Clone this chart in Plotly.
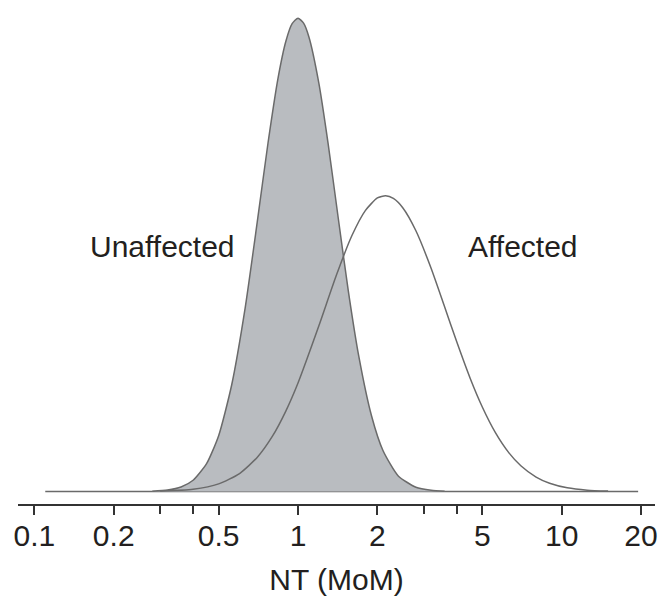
import numpy as np
import plotly.graph_objects as go

# Unaffected distribution (NT in MoM vs relative density)
unaff_x = [0.28, 0.32, 0.36, 0.40, 0.45, 0.50, 0.56, 0.63, 0.70, 0.77, 0.84, 0.90, 0.95, 1.0,
           1.05, 1.1, 1.2, 1.3, 1.42, 1.55, 1.7, 1.9, 2.1, 2.4, 2.8, 3.2, 3.6]
unaff_y = [0.002, 0.0085, 0.026, 0.065, 0.161, 0.323, 0.615, 1.06, 1.556, 2.02, 2.393, 2.608, 2.708, 2.74,
           2.711, 2.631, 2.363, 2.017, 1.586, 1.166, 0.783, 0.438, 0.237, 0.090, 0.0245, 0.0067, 0.0019]

# Affected distribution
aff_x = [0.3, 0.4, 0.5, 0.6, 0.7, 0.8, 0.9, 1.0, 1.2, 1.4, 1.6, 1.8, 2.0, 2.15, 2.3, 2.5, 2.8, 3.2,
         3.6, 4.0, 4.5, 5.0, 5.6, 6.3, 7.0, 8.0, 9.0, 10.5, 12.5, 15]
aff_y = [0.0021, 0.013, 0.0438, 0.104, 0.197, 0.320, 0.467, 0.628, 0.959, 1.254, 1.480, 1.626, 1.699, 1.712,
         1.696, 1.641, 1.509, 1.291, 1.068, 0.866, 0.654, 0.489, 0.342, 0.225, 0.149, 0.0833, 0.0474,
         0.021, 0.0076, 0.0023]

baseline_x = [0.11, 19.5]
baseline_y = [0, 0]

tick_vals = [0.1, 0.2, 0.5, 1, 2, 5, 10, 20]
tick_text = ["0.1", "0.2", "0.5", "1", "2", "5", "10", "20"]
minor_vals = [0.3, 0.4, 3, 4]

labels = ["Unaffected", "Affected"]
label_x = [0.306, 7.13]
label_y = [1.42, 1.42]

FONT = "Liberation Sans, Arial, Helvetica, sans-serif"
TEXT = "#231f20"
LINE = "#6a6a6a"
FILL = "#b9bcc0"

fig = go.Figure()
fig.add_trace(go.Scatter(x=baseline_x, y=baseline_y, mode="lines",
                         line=dict(color=LINE, width=1.5), hoverinfo="skip"))
fig.add_trace(go.Scatter(x=unaff_x, y=unaff_y, mode="lines", fill="tozeroy", fillcolor=FILL,
                         line=dict(color=LINE, width=1.5, shape="spline", smoothing=0.6)))
fig.add_trace(go.Scatter(x=aff_x, y=aff_y, mode="lines",
                         line=dict(color=LINE, width=1.5, shape="spline", smoothing=0.6)))

for t, xv, yv in zip(labels, label_x, label_y):
    fig.add_annotation(x=np.log10(xv), y=yv, text=t, showarrow=False,
                       font=dict(family=FONT, size=30, color=TEXT),
                       xanchor="center", yanchor="middle")

fig.update_layout(
    width=663, height=601,
    margin=dict(l=18, r=8, t=0, b=97),
    paper_bgcolor="white", plot_bgcolor="white",
    showlegend=False,
    font=dict(family=FONT, size=30, color=TEXT),
)
fig.update_xaxes(
    type="log", range=[-1.062, 1.354],
    tickmode="array", tickvals=tick_vals, ticktext=tick_text,
    ticks="outside", ticklen=9, tickwidth=1.5, tickcolor="#333333",
    ticklabelstandoff=-5,
    showline=True, linecolor="#333333", linewidth=2,
    showgrid=False, zeroline=False,
    tickfont=dict(family=FONT, size=30, color=TEXT),
    minor=dict(tickmode="array", tickvals=minor_vals, ticks="outside", ticklen=8,
               tickwidth=1.5, tickcolor="#333333", showgrid=False),
    title=dict(text="NT (MoM)", font=dict(family=FONT, size=30, color=TEXT), standoff=18),
)
fig.update_yaxes(range=[-0.0725, 2.845], visible=False, showgrid=False, zeroline=False)

fig.write_html("out.html")
